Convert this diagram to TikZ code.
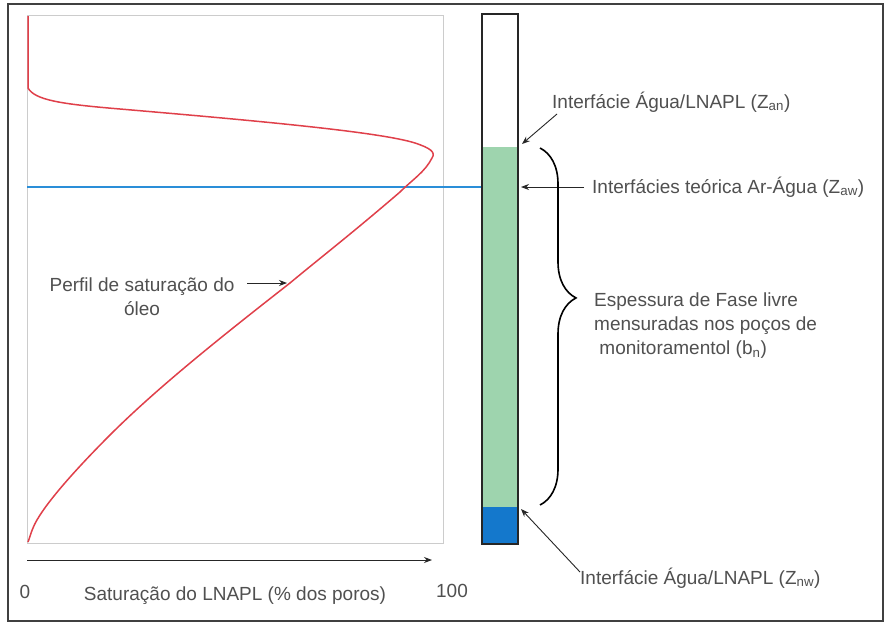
\documentclass[tikz,border=0pt]{standalone}
\usepackage{fontspec}
\setmainfont{Liberation Sans}
\usetikzlibrary{arrows.meta,decorations.pathreplacing}
\definecolor{txt}{HTML}{505050}
\definecolor{redc}{HTML}{E0404A}
\definecolor{bluel}{HTML}{2A8ED8}
\definecolor{greenf}{HTML}{9ED4AE}
\definecolor{bluef}{HTML}{1478CC}
\tikzset{
  lbl/.style={font=\fontsize{19}{24}\selectfont, text=txt, inner sep=0pt},
  ptr/.style={-{Stealth[length=8pt,width=6pt]}, line width=0.9pt, draw=black!85},
}
\begin{document}
\begin{tikzpicture}[x=1pt,y=-1pt]
\useasboundingbox (0,0) rectangle (885,624);
\fill[white] (0,0) rectangle (885,624);
% outer frame
\draw[line width=1.6pt, draw=black!75] (8,4) rectangle (883,621);
% plot box
\draw[line width=0.6pt, draw=black!20] (27,15) rectangle (443,543);
% blue line
\draw[line width=2pt, draw=bluel] (27,187) -- (518,187);
% red curve
\draw[line width=1.5pt, draw=redc, line join=round]
  (28,16) -- (28,88)
  .. controls (35,100) and (60,104) .. (120,109)
  .. controls (260,121) and (380,132) .. (415,143)
  .. controls (430,148) and (436,152) .. (432,158)
  .. controls (425,172) and (412,180) .. (400,192)
  .. controls (350,235) and (320,258) .. (290,283)
  .. controls (230,330) and (160,385) .. (110,435)
  .. controls (70,475) and (40,510) .. (33,528)
  .. controls (30,535) and (29,540) .. (28,542);
% column
\fill[greenf] (482,147) rectangle (518,507);
\fill[bluef] (482,507) rectangle (518,544);
\draw[line width=1.6pt, draw=black!85] (482,14) rectangle (518,544);
% axis
\draw[ptr] (27,560) -- (432,560);
\node[lbl] (zero) at (25,592) {0};
\node[lbl] (axlbl) at (235,596) {Saturação do LNAPL (\% dos poros)};
\node[lbl] (hundred) at (452,591) {100};
% profile label
\node[lbl, align=center] (perfil) at (142,297) {Perfil de saturação do\\óleo};
\coordinate (pa) at (247,283);
\coordinate (pb) at (287,283);
\draw[ptr] (pa) -- (pb);
% right labels
\node[lbl, anchor=west] (ztop) at (552,102) {Interfácie Água/LNAPL (Z\textsubscript{an})};
\coordinate (ta) at (557,114);
\coordinate (tb) at (522,144);
\draw[ptr] (ta) -- (tb);
\node[lbl, anchor=west] (zmid) at (592,187) {Interfácies teórica Ar-Água (Z\textsubscript{aw})};
\coordinate (ma) at (584,187);
\coordinate (mb) at (521,187);
\draw[ptr] (ma) -- (mb);
\node[lbl, anchor=west] (zbot) at (580,578) {Interfácie Água/LNAPL (Z\textsubscript{nw})};
\coordinate (ba) at (580,572);
\coordinate (bb) at (521,509);
\draw[ptr] (ba) -- (bb);
% brace
\coordinate (br1) at (540,148);
\coordinate (br2) at (540,505);
\draw[line width=1.6pt, decorate, decoration={brace, amplitude=36pt, aspect=0.42}] (br1) -- (br2);
\node[lbl, align=left, anchor=west] (esp) at (594,326) {Espessura de Fase livre\\mensuradas nos poços de\\\ monitoramentol (b\textsubscript{n})};
\end{tikzpicture}
\end{document}
